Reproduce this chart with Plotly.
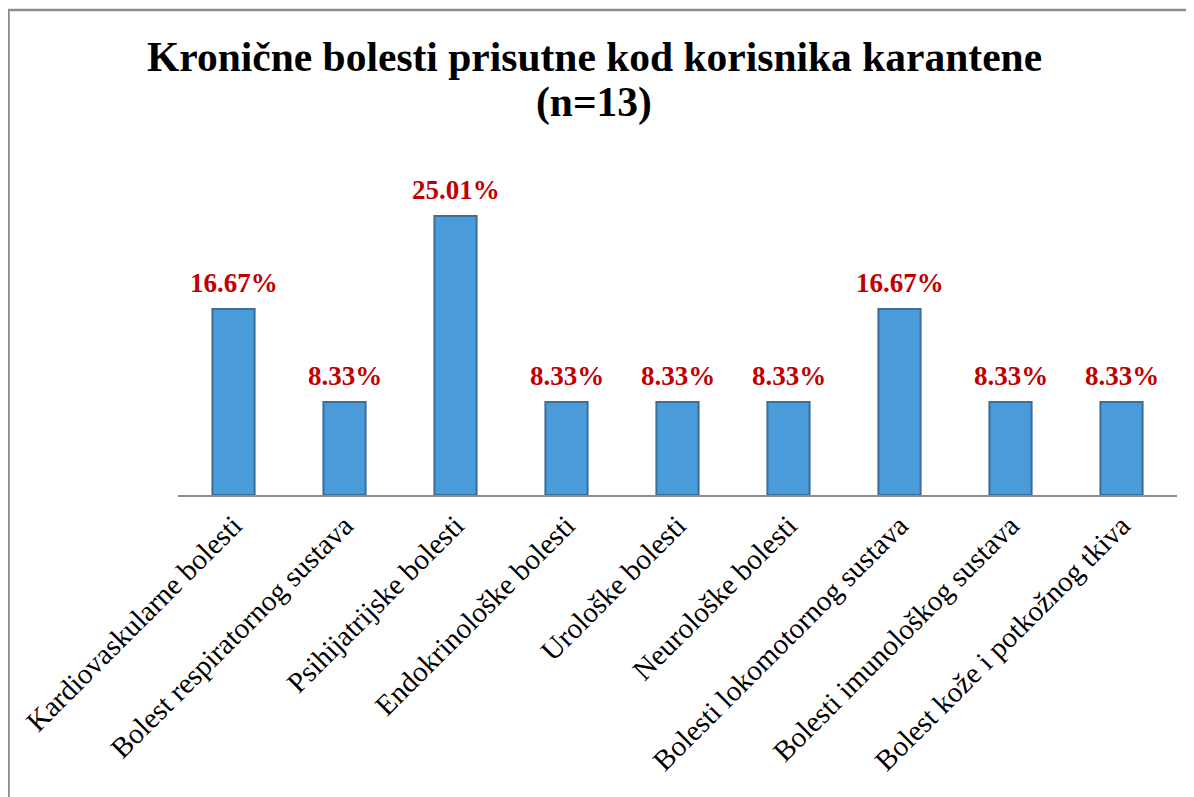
import plotly.graph_objects as go

categories = [
    "Kardiovaskularne bolesti",
    "Bolest respiratornog sustava",
    "Psihijatrijske bolesti",
    "Endokrinološke bolesti",
    "Urološke bolesti",
    "Neurološke bolesti",
    "Bolesti lokomotornog sustava",
    "Bolesti imunološkog sustava",
    "Bolest kože i potkožnog tkiva",
]
values = [16.67, 8.33, 25.01, 8.33, 8.33, 8.33, 16.67, 8.33, 8.33]
labels = [f"<b>{v:.2f}%</b>" for v in values]
title_lines = ["Kronične bolesti prisutne kod korisnika karantene", "(n=13)"]

W, H = 1194, 797
L, R, T, B = 170, 25, 132, 310

fig = go.Figure()
fig.add_trace(go.Bar(
    x=categories, y=values,
    cliponaxis=False, width=0.38,
    marker=dict(color="#4A9BD9", line=dict(color="#3B6E98", width=2)),
))

for c, v, t in zip(categories, values, labels):
    fig.add_annotation(x=c, y=v, text=t, showarrow=False, xanchor="center",
                       yanchor="bottom", yshift=9,
                       font=dict(family="Liberation Serif", size=27, color="#C00000"))

def px_x(p):
    return (p - L) / (W - L - R)

def px_y(p):
    return 1 - (p - T) / (H - T - B)

fig.add_shape(type="rect", xref="paper", yref="paper",
              x0=px_x(0.5), x1=px_x(1210), y0=px_y(2), y1=px_y(820),
              line=dict(color="#8C8C8C", width=2.5), fillcolor="rgba(0,0,0,0)", layer="below")

for txt, yc in zip(title_lines, [49, 95]):
    fig.add_annotation(text=f"<b>{txt}</b>", xref="paper", yref="paper",
                       x=px_x(586), y=px_y(yc), xanchor="center", yanchor="middle",
                       showarrow=False,
                       font=dict(family="Liberation Serif", size=41.5, color="black"))

fig.update_layout(
    width=W, height=H,
    margin=dict(l=L, r=R, t=T, b=B),
    paper_bgcolor="white", plot_bgcolor="white",
    showlegend=False,
    font=dict(family="Liberation Serif", color="black"),
    xaxis=dict(tickangle=-45, tickfont=dict(family="Liberation Serif", size=29, color="black"),
               showline=True, linecolor="#8C8C8C", linewidth=2, ticks="", showgrid=False,
               zeroline=False, automargin=False),
    yaxis=dict(range=[0, (H - T - B) / 11.16], visible=False, showgrid=False, zeroline=False,
               automargin=False),
    bargap=0.62,
)

fig.write_html("out.html")
